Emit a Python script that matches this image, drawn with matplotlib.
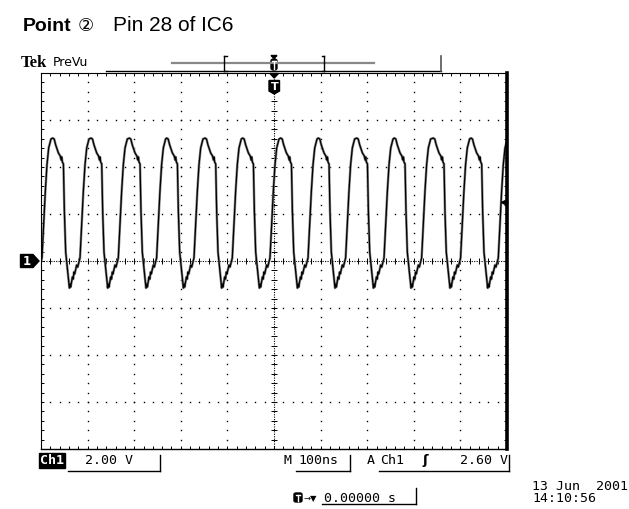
import numpy as np
import matplotlib
matplotlib.use("Agg")
import matplotlib.pyplot as plt
from matplotlib.patches import Polygon, FancyBboxPatch
from matplotlib.lines import Line2D
from matplotlib.ticker import MultipleLocator

# screen settings
ns_per_div = 100
volts_per_div = 2.0
trig_level_v = 2.5      # where the level marker sits on screen

# peak times of the trace (ns from trigger)
peak_times = [-556.5, -474.9, -392.7, -310.5, -230.3, -148.1, -67.2,
              14.4, 95.1, 177.5, 258.2, 341.8, 422.7]

# one cycle of the waveform: time after its peak (ns) and level (V)
cycle_t = [0, 3.2, 6.4, 12.2, 16.1, 18.2, 19.3, 20.8, 23.0,
           25.1, 27.9, 31.5, 35.8, 37.6, 38.6,
           42.3, 44.0, 45.7, 47.2, 51.5, 53.6,
           57.3, 58.6, 62.2, 65.7, 69.3, 73.0, 77.9]
cycle_v = [5.23, 5.19, 4.94, 4.60, 4.47, 4.30, 4.43, 4.21, 4.13,
           2.09, 0.38, -0.30, -1.15, -0.98, -1.11,
           -0.68, -0.77, -0.47, -0.55, -0.17, -0.26,
           0.04, 0.13, 1.53, 2.94, 4.09, 4.81, 5.19]

W, H = 629, 509


def px(x, y):
    # pixel position (from top-left) -> figure fraction
    return x / W, 1 - y / H


fig = plt.figure(figsize=(W / 100, H / 100), dpi=100)
fig.patch.set_facecolor("white")

ax = fig.add_axes([41 / W, 1 - 449 / H, 466 / W, 376 / H])
xmax = 5 * ns_per_div
ymax = 4 * volts_per_div
ax.set_xlim(-xmax, xmax)
ax.set_ylim(-ymax, ymax)

# graticule dots
for gx in np.arange(-4, 5) * ns_per_div:
    if gx == 0:
        continue
    gy = np.arange(-ymax, ymax + 0.01, volts_per_div / 5)
    ax.plot(np.full_like(gy, gx), gy, ls="none", marker="s", ms=1.0, mew=0, color="k")
for gy in np.arange(-3, 4) * volts_per_div:
    if gy == 0:
        continue
    gx = np.arange(-xmax, xmax + 0.01, ns_per_div / 5)
    ax.plot(gx, np.full_like(gx, gy), ls="none", marker="s", ms=1.0, mew=0, color="k")

# centre cross with ticks
ax.axhline(0, color="k", lw=0.8, ls=(0, (1, 1.2)))
ax.axvline(0, color="k", lw=0.8, ls=(0, (1, 1.2)))
tx = np.arange(-xmax, xmax + 0.01, ns_per_div / 5)
ax.plot(tx, np.zeros_like(tx), ls="none", marker="|", ms=4, mew=0.7, color="k")
ty = np.arange(-ymax, ymax + 0.01, volts_per_div / 5)
ax.plot(np.zeros_like(ty), ty, ls="none", marker="_", ms=4, mew=0.7, color="k")

# frame
for side in ["top", "left"]:
    ax.spines[side].set_linestyle((0, (1, 1)))
    ax.spines[side].set_linewidth(0.8)
ax.spines["bottom"].set_linewidth(1.0)
ax.spines["right"].set_linewidth(2.6)
ax.xaxis.set_major_locator(MultipleLocator(ns_per_div))
ax.xaxis.set_minor_locator(MultipleLocator(ns_per_div / 5))
ax.yaxis.set_major_locator(MultipleLocator(volts_per_div))
ax.yaxis.set_minor_locator(MultipleLocator(volts_per_div / 5))
ax.tick_params(which="both", direction="in", length=2.5, width=0.7,
               top=True, bottom=True, left=True, right=True,
               labelbottom=False, labelleft=False)

# the trace
t = np.concatenate([p + np.array(cycle_t) for p in peak_times])
v = np.concatenate([np.array(cycle_v) for p in peak_times])
ax.plot(t, v, color="#8a8a8a", lw=1.8, solid_joinstyle="round")
ax.plot(t, v, color="k", lw=0.9, solid_joinstyle="round")

# trigger level marker on the right edge
ax.plot([xmax * 0.985], [trig_level_v], marker="<", ms=5, color="k", clip_on=False)
ax.plot([xmax * 0.985, xmax], [trig_level_v] * 2, color="k", lw=1, clip_on=False)

# channel 1 ground marker
gy_px = 261
fig.patches.append(Polygon(
    [px(20.5, gy_px - 6.5), px(33, gy_px - 6.5), px(39, gy_px),
     px(33, gy_px + 6.5), px(20.5, gy_px + 6.5)],
    closed=True, transform=fig.transFigure, color="k"))
fig.text(*px(27, gy_px + 0.5), "1", color="white", fontsize=8.5, fontweight="bold",
         ha="center", va="center")

# title
fig.text(*px(22.5, 31), "Point", fontsize=14, fontweight="bold",
         family=["Liberation Sans", "DejaVu Sans"])
fig.text(*px(78, 31), "②", fontsize=13,
         family=["Liberation Sans", "DejaVu Sans", "Noto Sans CJK JP"])
fig.text(*px(113, 31), "Pin 28 of IC6", fontsize=15,
         family=["Liberation Sans", "DejaVu Sans"])

# top status bar
fig.text(*px(21, 67), "Tek", fontsize=12, fontweight="bold",
         family=["Liberation Serif", "DejaVu Serif"])
fig.text(*px(53, 66), "PreVu", fontsize=9, family="DejaVu Sans")


def seg(x0, y0, x1, y1, **kw):
    fig.lines.append(Line2D([x0 / W, x1 / W], [1 - y0 / H, 1 - y1 / H],
                            transform=fig.transFigure, **kw))


seg(106, 70.5, 441, 70.5, color="k", lw=1)
seg(441, 56, 441, 70.5, color="#555555", lw=1.2)
seg(172, 62.7, 374, 62.7, color="#888888", lw=1.6)
for bx, d in [(224, 2.5), (324, -2.5)]:
    seg(bx, 56, bx, 70.5, color="k", lw=1)
    seg(bx, 56, bx + d, 56, color="k", lw=1)
    seg(bx, 70.5, bx + d, 70.5, color="k", lw=1)

# trigger position marker above the frame
fig.patches.append(Polygon([px(271, 55.5), px(277, 55.5), px(274, 58.5)],
                           closed=True, transform=fig.transFigure, color="k"))
fig.patches.append(FancyBboxPatch(px(271, 70), 6 / W, 11 / H,
                                  boxstyle="round,pad=0,rounding_size=0.004",
                                  transform=fig.transFigure, color="k"))
seg(274, 61, 274, 69, color="white", lw=1)
seg(272, 61, 276, 61, color="white", lw=1)

# trigger marker inside the frame
fig.patches.append(Polygon([px(270, 73.5), px(278.5, 73.5), px(274.2, 78)],
                           closed=True, transform=fig.transFigure, color="k"))
fig.patches.append(Polygon(
    [px(269, 80.5), px(279.5, 80.5), px(279.5, 91), px(274.2, 94),
     px(269, 91)], closed=True, transform=fig.transFigure, color="k"))
fig.text(*px(274.3, 87.5), "T", color="white", fontsize=8, fontweight="bold",
         ha="center", va="center", family="DejaVu Sans")

# bottom readouts
fs = 9.5
mono = "DejaVu Sans Mono"
fig.text(*px(40, 464), "Ch1", fontsize=fs, color="white", fontweight="bold",
         family=mono, bbox=dict(boxstyle="square,pad=0.1", fc="k", ec="k"))
fig.text(*px(85, 464), "2.00 V", fontsize=fs, family=mono)
seg(68, 470.5, 159.5, 470.5, color="k", lw=1)
seg(159.5, 455, 159.5, 470.5, color="k", lw=1)

fig.text(*px(284, 464), "M", fontsize=fs, family=mono)
fig.text(*px(298, 464), "100ns", fontsize=fs, family=mono)
seg(296, 470.5, 350, 470.5, color="k", lw=1)
seg(350, 455, 350, 470.5, color="k", lw=1)

fig.text(*px(367, 464), "A", fontsize=fs, family=mono)
fig.text(*px(380, 464), "Ch1", fontsize=fs, family=mono)
fig.text(*px(422, 464), "ʃ", fontsize=fs, family="DejaVu Sans", fontweight="bold")
fig.text(*px(460, 464), "2.60 V", fontsize=fs, family=mono)
seg(379, 470.5, 509, 470.5, color="k", lw=1)
seg(509, 455, 509, 470.5, color="k", lw=1)

fig.text(*px(532, 490), "13 Jun  2001", fontsize=fs, family=mono)
fig.text(*px(532, 502), "14:10:56", fontsize=fs, family=mono)

fig.patches.append(FancyBboxPatch(px(294, 502), 8 / W, 9 / H,
                                  boxstyle="round,pad=0,rounding_size=0.003",
                                  transform=fig.transFigure, color="k"))
seg(298, 495, 298, 501, color="white", lw=1)
seg(296, 495, 300, 495, color="white", lw=1)
fig.text(*px(303, 501), "→▼", fontsize=6, family="DejaVu Sans")
fig.text(*px(324, 502), "0.00000 s", fontsize=fs, family=mono)
seg(322, 504, 416, 504, color="k", lw=1)
seg(416, 488, 416, 504, color="k", lw=1)

fig.savefig("out.png", dpi=100)
